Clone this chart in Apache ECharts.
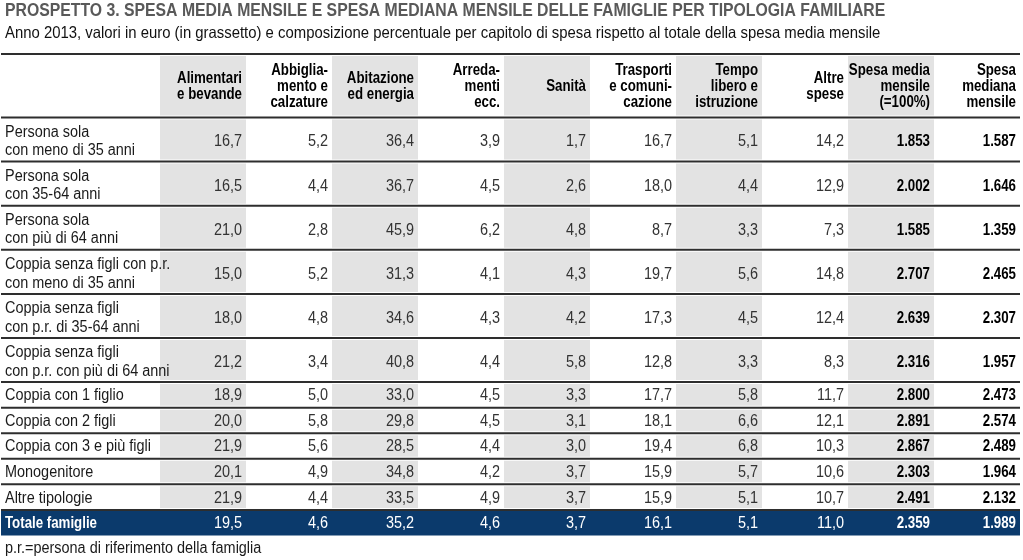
<!DOCTYPE html>
<html><head><meta charset="utf-8">
<script src="https://cdn.jsdelivr.net/npm/echarts@6/dist/echarts.min.js"></script>
<style>html,body{margin:0;padding:0;background:#fff}#c{width:1023px;height:560px}</style>
</head><body><div id="c"></div>
<script>
// ---------- texts ----------
const titleText = 'PROSPETTO 3. SPESA MEDIA MENSILE E SPESA MEDIANA MENSILE DELLE FAMIGLIE PER TIPOLOGIA FAMILIARE';
const subtitleText = 'Anno 2013, valori in euro (in grassetto) e composizione percentuale per capitolo di spesa rispetto al totale della spesa media mensile';
const footnoteText = 'p.r.=persona di riferimento della famiglia';

// ---------- categories ----------
const columnHeaders = [
  'Alimentari\ne bevande', 'Abbiglia-\nmento e\ncalzature', 'Abitazione\ned energia',
  'Arreda-\nmenti\necc.', 'Sanità', 'Trasporti\ne comuni-\ncazione',
  'Tempo\nlibero e\nistruzione', 'Altre\nspese', 'Spesa media\nmensile\n(=100%)',
  'Spesa\nmediana\nmensile'
];
const rowLabels = [
  'Persona sola\ncon meno di 35 anni',
  'Persona sola\ncon 35-64 anni',
  'Persona sola\ncon più di 64 anni',
  'Coppia senza figli con p.r.\ncon meno di 35 anni',
  'Coppia senza figli\ncon p.r. di 35-64 anni',
  'Coppia senza figli\ncon p.r. con più di 64 anni',
  'Coppia con 1 figlio',
  'Coppia con 2 figli',
  'Coppia con 3 e più figli',
  'Monogenitore',
  'Altre tipologie',
  'Totale famiglie'
];

// ---------- values (one array per column) ----------
const alimentari    = [16.7, 16.5, 21.0, 15.0, 18.0, 21.2, 18.9, 20.0, 21.9, 20.1, 21.9, 19.5];
const abbigliamento = [5.2, 4.4, 2.8, 5.2, 4.8, 3.4, 5.0, 5.8, 5.6, 4.9, 4.4, 4.6];
const abitazione    = [36.4, 36.7, 45.9, 31.3, 34.6, 40.8, 33.0, 29.8, 28.5, 34.8, 33.5, 35.2];
const arredamenti   = [3.9, 4.5, 6.2, 4.1, 4.3, 4.4, 4.5, 4.5, 4.4, 4.2, 4.9, 4.6];
const sanita        = [1.7, 2.6, 4.8, 4.3, 4.2, 5.8, 3.3, 3.1, 3.0, 3.7, 3.7, 3.7];
const trasporti     = [16.7, 18.0, 8.7, 19.7, 17.3, 12.8, 17.7, 18.1, 19.4, 15.9, 15.9, 16.1];
const tempoLibero   = [5.1, 4.4, 3.3, 5.6, 4.5, 3.3, 5.8, 6.6, 6.8, 5.7, 5.1, 5.1];
const altreSpese    = [14.2, 12.9, 7.3, 14.8, 12.4, 8.3, 11.7, 12.1, 10.3, 10.6, 10.7, 11.0];
const spesaMedia    = [1853, 2002, 1585, 2707, 2639, 2316, 2800, 2891, 2867, 2303, 2491, 2359];
const spesaMediana  = [1587, 1646, 1359, 2465, 2307, 1957, 2473, 2574, 2489, 1964, 2132, 1989];

const columns = [alimentari, abbigliamento, abitazione, arredamenti, sanita,
                 trasporti, tempoLibero, altreSpese, spesaMedia, spesaMediana];
const euroColumns = [8, 9];
const shadedColumns = [0, 2, 4, 6, 8];

// ---------- style ----------
function hasFont(name) {
  const ctx = document.createElement('canvas').getContext('2d');
  const t = 'abcdefghijklmnopqrstuvwxyzABCDEFGHIJKLM0123456789';
  ctx.font = '16px monospace'; const a = ctx.measureText(t).width;
  ctx.font = '16px "' + name + '", monospace'; const b = ctx.measureText(t).width;
  return Math.abs(a - b) > 0.5;
}
const NARROW = hasFont('Liberation Sans Narrow');
const FONT = NARROW ? '"Liberation Sans Narrow"' : '"Liberation Sans", Arial, sans-serif';
const SX = (NARROW ? 1 : 0.82) * 1.1;
const BSX = SX * 0.92;
const SHADE = '#e3e3e3';
const LINE = '#2e2e2e';
const BLUE = '#0b3a6c';
const LINE_X0 = 1;
const LABEL_X = 5;
const PAD = 4;

function fmtPct(v) { return v.toFixed(1).replace('.', ','); }
function fmtEuro(v) { return String(v).replace(/\B(?=(\d{3})+(?!\d))/g, '.'); }

function txt(x, y, text, o) {
  return {
    type: 'text', x: x, y: y, scaleX: o.sx || SX, silent: true,
    style: {
      text: text, x: 0, y: 0,
      align: o.align || 'left', verticalAlign: 'middle',
      fontFamily: FONT, fontSize: o.size || 16, fontWeight: o.weight || 'normal',
      fill: o.color || '#333', lineHeight: o.lh || 18
    }
  };
}
function cellBox(api) {
  const c = api.coord([api.value(0), api.value(1)]);
  const s = api.size([1, 1]);
  return { x0: c[0] - s[0] / 2, x1: c[0] + s[0] / 2, y0: c[1] - s[1] / 2, y1: c[1] + s[1] / 2, cx: c[0], cy: c[1], w: s[0], h: s[1] };
}
function hline(x0, x1, y, w) {
  return { type: 'line', silent: true, shape: { x1: x0, y1: y, x2: x1, y2: y }, style: { stroke: LINE, lineWidth: w || 2 } };
}

// header cells
function renderHeader(params, api) {
  const b = cellBox(api);
  const ci = api.value(0);
  const ch = [];
  if (shadedColumns.indexOf(ci) >= 0) {
    ch.push({ type: 'rect', silent: true, shape: { x: b.x0, y: b.y0 + 2, width: b.w, height: b.h - 4 }, style: { fill: SHADE } });
  }
  ch.push(txt(b.x1 - PAD, b.cy + 1, columnHeaders[ci], { align: 'right', weight: 'bold', color: '#000', lh: 15.8, sx: BSX }));
  return { type: 'group', children: ch };
}
// body cells
function renderCell(params, api) {
  const b = cellBox(api);
  const ci = api.value(0);
  const row = api.value(2);
  const isTotal = row === rowLabels.length - 1;
  const twoLine = rowLabels[row].indexOf('\n') >= 0;
  const v = columns[ci][row];
  const isEuro = euroColumns.indexOf(ci) >= 0;
  const ch = [];
  if (!isTotal && shadedColumns.indexOf(ci) >= 0) {
    ch.push({ type: 'rect', silent: true, shape: { x: b.x0, y: b.y0 + 2, width: b.w, height: b.h - 4 }, style: { fill: SHADE } });
  }
  ch.push(txt(b.x1 - PAD, b.cy + (twoLine ? 2.5 : 1), isEuro ? fmtEuro(v) : fmtPct(v), {
    align: 'right', weight: isEuro ? 'bold' : 'normal', sx: isEuro ? BSX : SX,
    color: isTotal ? '#fff' : (isEuro ? '#000' : '#333')
  }));
  return { type: 'group', children: ch };
}
// row backgrounds / lines / labels
function renderRow(params, api) {
  const b = cellBox(api);
  const row = api.value(2);
  const cs = params.coordSys;
  const right = cs.x + cs.width;
  const ch = [];
  if (row < 0) { // header row
    ch.push(hline(LINE_X0, right, b.y0, 2));
    ch.push(hline(LINE_X0, right, b.y1, 2));
    return { type: 'group', children: ch };
  }
  const isTotal = row === rowLabels.length - 1;
  if (isTotal) {
    ch.push({ type: 'rect', silent: true, shape: { x: LINE_X0, y: b.y0 + 1, width: right - LINE_X0, height: b.h - 1 }, style: { fill: BLUE } });
  } else {
    ch.push(hline(LINE_X0, right, b.y1, 2));
  }
  const twoLine = rowLabels[row].indexOf('\n') >= 0;
  ch.push(txt(LABEL_X, b.cy + (twoLine ? 2 : 1), rowLabels[row], {
    weight: isTotal ? 'bold' : 'normal', sx: isTotal ? BSX : SX,
    color: isTotal ? '#fff' : '#1a1a1a', lh: 18.5
  }));
  return { type: 'group', children: ch };
}

// ---------- build ----------
const colKeys = columnHeaders.map(function (h, i) { return 'c' + i; });
const splitAt = 6;
const rowsA = rowLabels.slice(0, splitAt);
const rowsB = rowLabels.slice(splitAt);

const grids = [
  { left: 160, right: 3, top: 54, height: 63.5 },
  { left: 160, right: 3, top: 117.5, height: 264.6 },
  { left: 160, right: 3, top: 382.1, height: 153.4 }
];
const xAxes = grids.map(function (g, i) { return { type: 'category', gridIndex: i, data: colKeys, show: false }; });
const yAxes = [
  { type: 'category', gridIndex: 0, data: ['header'], show: false, inverse: true },
  { type: 'category', gridIndex: 1, data: rowsA, show: false, inverse: true },
  { type: 'category', gridIndex: 2, data: rowsB, show: false, inverse: true }
];

function cellData(rows, offset) {
  const d = [];
  rows.forEach(function (r, ri) { columns.forEach(function (col, ci) { d.push([ci, ri, ri + offset]); }); });
  return d;
}
function rowData(rows, offset) { return rows.map(function (r, ri) { return [0, ri, ri + offset]; }); }

const series = [
  { type: 'custom', xAxisIndex: 0, yAxisIndex: 0, z: 2, renderItem: renderHeader, data: columnHeaders.map(function (h, i) { return [i, 0]; }), silent: true },
  { type: 'custom', xAxisIndex: 0, yAxisIndex: 0, z: 3, renderItem: renderRow, data: [[0, 0, -1]], silent: true },
  { type: 'custom', xAxisIndex: 1, yAxisIndex: 1, z: 2, renderItem: renderCell, data: cellData(rowsA, 0), silent: true },
  { type: 'custom', xAxisIndex: 1, yAxisIndex: 1, z: 3, renderItem: renderRow, data: rowData(rowsA, 0), silent: true },
  { type: 'custom', xAxisIndex: 2, yAxisIndex: 2, z: 2, renderItem: renderCell, data: cellData(rowsB, splitAt), silent: true },
  { type: 'custom', xAxisIndex: 2, yAxisIndex: 2, z: 1, renderItem: renderRow, data: rowData(rowsB, splitAt), silent: true }
];

const chart = echarts.init(document.getElementById('c'), null, { renderer: 'canvas' });
chart.setOption({
  animation: false,
  backgroundColor: '#fff',
  grid: grids,
  xAxis: xAxes,
  yAxis: yAxes,
  series: series,
  graphic: [
    txt(5, 11, titleText, { weight: 'bold', size: 17.5, color: '#595959' }),
    txt(5, 33.5, subtitleText, { size: 16.5, color: '#111' }),
    txt(5, 549, footnoteText, { size: 16, color: '#1a1a1a' })
  ]
});
</script>
</body></html>
